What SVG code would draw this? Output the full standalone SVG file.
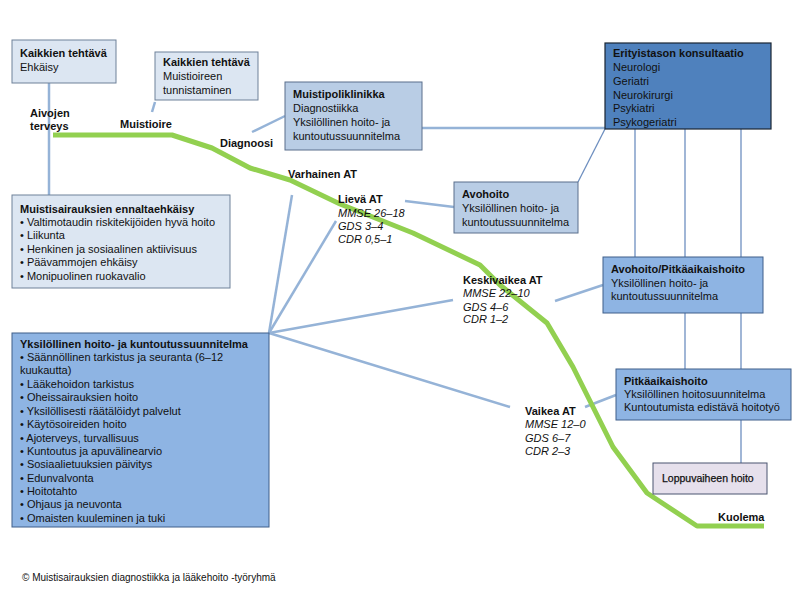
<svg xmlns="http://www.w3.org/2000/svg" width="800" height="600" viewBox="0 0 800 600">
<style>
text{font-family:"Liberation Sans",Arial,sans-serif;font-size:11px;fill:#111}
.b{font-weight:bold}
.i{font-style:italic}
.c1{fill:#dce6f2;stroke:#6f8199;stroke-width:1}
.c2{fill:#b9cde5;stroke:#5a6f8c;stroke-width:1}
.c3{fill:#8eb4e3;stroke:#3f5f8a;stroke-width:1}
.c4{fill:#4f81bd;stroke:#1a2533;stroke-width:1.2}
.c5{fill:#e6e0ec;stroke:#4a5470;stroke-width:1}
.ln{stroke:#95b3d7;stroke-width:2.5;fill:none}
.th{stroke:#6e8fc0;stroke-width:1.3;fill:none}
.gr{stroke:#92d050;stroke-width:5;fill:none;stroke-linejoin:round;stroke-linecap:butt}
</style>
<rect width="800" height="600" fill="#fff"/>
<g id="connectors">
<line class="ln" x1="49" y1="83" x2="49" y2="195"/>
<line class="ln" x1="155" y1="102" x2="152" y2="112"/>
<line class="ln" x1="252" y1="132" x2="285" y2="116"/>
<line class="ln" x1="422" y1="128" x2="605" y2="128"/>
<line class="th" x1="605" y1="129" x2="578" y2="182"/>
<line class="th" x1="635" y1="129" x2="635" y2="257"/>
<line class="th" x1="685" y1="129" x2="685" y2="257"/>
<line class="th" x1="741" y1="129" x2="741" y2="257"/>
<line class="th" x1="685" y1="313" x2="685" y2="369"/>
<line class="th" x1="741" y1="313" x2="741" y2="369"/>
<line class="th" x1="741" y1="420" x2="741" y2="463"/>
<line class="ln" x1="405" y1="201" x2="454" y2="207"/>
<line class="ln" x1="555" y1="301" x2="603" y2="285"/>
<line class="ln" x1="585" y1="407" x2="616" y2="395"/>
<line class="ln" x1="269" y1="333" x2="292" y2="195"/>
<line class="ln" x1="269" y1="333" x2="336" y2="221"/>
<line class="ln" x1="269" y1="333" x2="453" y2="300"/>
<line class="ln" x1="269" y1="333" x2="510" y2="407"/>
</g>
<g id="curve">
<polyline class="gr" points="53,135 172,135 212,148 250,168 290,180 340,204 413,233 480,265 500,285 547,323 573,367 613,447 647,493 697,526 764,526"/>
</g>
<g id="stage-labels">
<text class="b" x="30" y="117">Aivojen</text>
<text class="b" x="30" y="130">terveys</text>
<text class="b" x="120" y="128">Muistioire</text>
<text class="b" x="220" y="147">Diagnoosi</text>
<text class="b" x="288" y="178">Varhainen AT</text>
<text class="b" x="338" y="203">Lievä AT</text>
<text class="i" x="338" y="217">MMSE 26–18</text>
<text class="i" x="338" y="230">GDS 3–4</text>
<text class="i" x="338" y="243">CDR 0,5–1</text>
<text class="b" x="463" y="284">Keskivaikea AT</text>
<text class="i" x="463" y="297">MMSE 22–10</text>
<text class="i" x="463" y="311">GDS 4–6</text>
<text class="i" x="463" y="323">CDR 1–2</text>
<text class="b" x="525" y="415">Vaikea AT</text>
<text class="i" x="525" y="428">MMSE 12–0</text>
<text class="i" x="525" y="442">GDS 6–7</text>
<text class="i" x="525" y="455">CDR 2–3</text>
<text class="b" x="718" y="521">Kuolema</text>
</g>
<g id="n-ehkaisy">
<rect class="c1" x="12" y="40" width="104" height="43"/>
<text class="b" x="20" y="57">Kaikkien tehtävä</text>
<text x="20" y="71">Ehkäisy</text>
</g>
<g id="n-tunnistaminen">
<rect class="c1" x="155" y="52" width="103" height="48"/>
<text class="b" x="163" y="66">Kaikkien tehtävä</text>
<text x="163" y="80">Muistioireen</text>
<text x="163" y="94">tunnistaminen</text>
</g>
<g id="n-muistipoli">
<rect class="c2" x="285" y="82" width="137" height="68"/>
<text class="b" x="293" y="98">Muistipoliklinikka</text>
<text x="293" y="112">Diagnostiikka</text>
<text x="293" y="126">Yksilöllinen hoito- ja</text>
<text x="293" y="140">kuntoutussuunnitelma</text>
</g>
<g id="n-erityis">
<rect class="c4" x="605" y="43" width="166" height="86"/>
<text class="b" x="613" y="57">Erityistason konsultaatio</text>
<text x="613" y="71">Neurologi</text>
<text x="613" y="85">Geriatri</text>
<text x="613" y="99">Neurokirurgi</text>
<text x="613" y="112">Psykiatri</text>
<text x="613" y="126">Psykogeriatri</text>
</g>
<g id="n-ennalta">
<rect class="c1" x="12" y="195" width="218" height="93"/>
<text class="b" x="20" y="213">Muistisairauksien ennaltaehkäisy</text>
<text x="20" y="226">• Valtimotaudin riskitekijöiden hyvä hoito</text>
<text x="20" y="239">• Liikunta</text>
<text x="20" y="253">• Henkinen ja sosiaalinen aktiivisuus</text>
<text x="20" y="266">• Päävammojen ehkäisy</text>
<text x="20" y="280">• Monipuolinen ruokavalio</text>
</g>
<g id="n-avohoito">
<rect class="c2" x="454" y="182" width="124" height="51"/>
<text class="b" x="462" y="198">Avohoito</text>
<text x="462" y="212">Yksilöllinen hoito- ja</text>
<text x="462" y="226">kuntoutussuunnitelma</text>
</g>
<g id="n-avopitka">
<rect class="c3" x="603" y="257" width="160" height="56"/>
<text class="b" x="611" y="273">Avohoito/Pitkäaikaishoito</text>
<text x="611" y="287">Yksilöllinen hoito- ja</text>
<text x="611" y="300">kuntoutussuunnitelma</text>
</g>
<g id="n-pitka">
<rect class="c3" x="616" y="369" width="175" height="51"/>
<text class="b" x="624" y="385">Pitkäaikaishoito</text>
<text x="624" y="398">Yksilöllinen hoitosuunnitelma</text>
<text x="624" y="411">Kuntoutumista edistävä hoitotyö</text>
</g>
<g id="n-loppu">
<rect class="c5" x="653" y="463" width="114" height="31"/>
<text x="662" y="482" style="font-size:10.5px;stroke:#111;stroke-width:0.25">Loppuvaiheen hoito</text>
</g>
<g id="n-suunnitelma">
<rect class="c3" x="12" y="333" width="257" height="194"/>
<text class="b" x="20" y="348">Yksilöllinen hoito- ja kuntoutussuunnitelma</text>
<text x="20" y="361">• Säännöllinen tarkistus ja seuranta (6–12</text>
<text x="20" y="374">kuukautta)</text>
<text x="20" y="388">• Lääkehoidon tarkistus</text>
<text x="20" y="401">• Oheissairauksien hoito</text>
<text x="20" y="415">• Yksilöllisesti räätälöidyt palvelut</text>
<text x="20" y="428">• Käytösoireiden hoito</text>
<text x="20" y="442">• Ajoterveys, turvallisuus</text>
<text x="20" y="455">• Kuntoutus ja apuvälinearvio</text>
<text x="20" y="468">• Sosiaalietuuksien päivitys</text>
<text x="20" y="482">• Edunvalvonta</text>
<text x="20" y="495">• Hoitotahto</text>
<text x="20" y="508">• Ohjaus ja neuvonta</text>
<text x="20" y="522">• Omaisten kuuleminen ja tuki</text>
</g>
<text x="22" y="581" style="font-size:10px">© Muistisairauksien diagnostiikka ja lääkehoito -työryhmä</text>
</svg>
